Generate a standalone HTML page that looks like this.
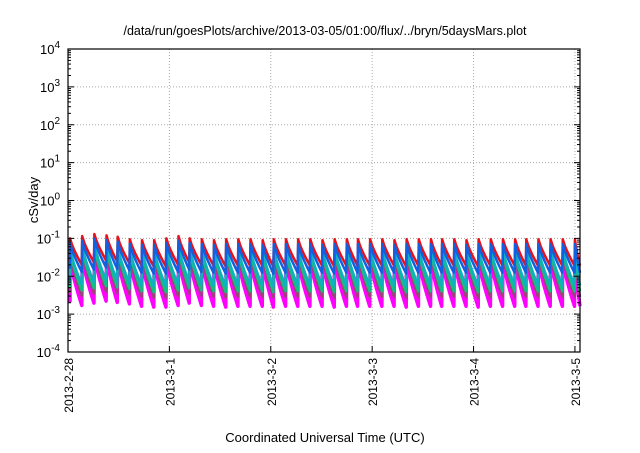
<!DOCTYPE html>
<html><head><meta charset="utf-8"><style>
body{margin:0;background:#fff;font-family:"Liberation Sans",sans-serif}
svg text{font-family:"Liberation Sans",sans-serif;fill:#000}
</style></head><body>
<svg id="c" width="640" height="448" xmlns="http://www.w3.org/2000/svg">
<text x="325" y="35" font-size="12.5" text-anchor="middle">/data/run/goesPlots/archive/2013-03-05/01:00/flux/../bryn/5daysMars.plot</text>
<text transform="translate(38,200) rotate(-90)" font-size="13" text-anchor="middle">cSv/day</text>
<text x="325" y="442" font-size="13" text-anchor="middle">Coordinated Universal Time (UTC)</text>
<g id="grid"></g><g id="series"></g><g id="axes"></g>
</svg>
<script>
const xTickLabels=["2013-2-28","2013-3-1","2013-3-2","2013-3-3","2013-3-4","2013-3-5"];
const yTickExps=[-4,-3,-2,-1,0,1,2,3,4];
const cycleTimes=[0.02,0.14,0.26,0.38,0.49,0.61,0.73,0.85,0.97,1.09,1.2,1.32,1.44,1.56,1.68,1.8,1.92,2.03,2.15,2.27,2.39,2.51,2.63,2.75,2.86,2.98,3.1,3.22,3.34,3.46,3.58,3.69,3.81,3.93,4.05,4.17,4.29,4.41,4.52,4.64,4.76,4.88,5.0];
const cycleScale=[1.0,1.15,1.3,1.2,1.1,0.95,0.9,0.9,1.0,1.15,1.0,0.95,0.9,0.95,0.95,0.95,0.9,0.95,0.95,0.95,0.95,0.9,0.95,0.95,0.95,0.95,0.95,0.9,0.95,0.95,0.95,0.95,0.95,0.9,0.95,0.95,0.95,0.95,0.95,0.95,0.95,0.95,0.95];
const seriesNames=["magenta","brown","green","cyan","red","blue"];
const seriesColors=["#ff00ff","#a0407a","#10c080","#10b0c0","#e8101a","#1060e0"];
const seriesPeak=[0.028,0.035,0.045,0.055,0.1,0.075];
const seriesTrough=[0.0017,0.003,0.0042,0.006,0.02,0.013];
const seriesWidth=[3.5,2.5,2.5,2.5,2.5,2.5];
const L=68,R=580,T=49,B=352,X0=0,X1=5.05,YMIN=-4,YMAX=4;
const sx=t=>L+(t-X0)/(X1-X0)*(R-L);
const sy=v=>B-(Math.log10(v)-YMIN)/(YMAX-YMIN)*(B-T);
const NS="http://www.w3.org/2000/svg";
function mk(tag,attrs,parent){const e=document.createElementNS(NS,tag);for(const k in attrs)e.setAttribute(k,attrs[k]);parent.appendChild(e);return e;}
const grid=document.getElementById('grid'),axes=document.getElementById('axes'),ser=document.getElementById('series');
xTickLabels.forEach((lab,i)=>{
  const x=sx(i);
  if(i>0){const g=mk('line',{x1:x,x2:x,y1:T,y2:B,stroke:'#aaa','stroke-dasharray':'1,2'},grid);
  
  }
  const tk=mk('line',{x1:x,x2:x,y1:B,y2:B-6,stroke:'#000'},axes);
  
  
  const t=mk('text',{transform:`translate(${x+5},${B+6}) rotate(-90)`,'font-size':12,'text-anchor':'end'},axes);
  t.textContent=lab;
  
  
});
yTickExps.forEach(e=>{
  const y=sy(Math.pow(10,e));
  if(e>YMIN&&e<YMAX){const g=mk('line',{x1:L,x2:R,y1:y,y2:y,stroke:'#aaa','stroke-dasharray':'1,2'},grid);
  
  }
  mk('line',{x1:L,x2:L+6,y1:y,y2:y,stroke:'#000'},axes);
  mk('line',{x1:R,x2:R-6,y1:y,y2:y,stroke:'#000'},axes);
  if(e<YMAX)for(let m=2;m<10;m++){const ym=sy(m*Math.pow(10,e));mk('line',{x1:L,x2:L+3,y1:ym,y2:ym,stroke:'#000'},axes);mk('line',{x1:R,x2:R-3,y1:ym,y2:ym,stroke:'#000'},axes);}
  const t=mk('text',{x:60,y:y+5,'font-size':13,'text-anchor':'end'},axes);
  t.textContent='10';
  const s=mk('tspan',{dy:-6,'font-size':10},t);s.textContent=e;
  
  
});
const frame=mk('rect',{x:L,y:T,width:R-L,height:B-T,fill:'none',stroke:'#000','stroke-width':1.2},axes);


seriesNames.forEach((nm,si)=>{
  let d='';
  cycleTimes.forEach((t,i)=>{
    const pk=seriesPeak[si]*cycleScale[i],tr=seriesTrough[si]*cycleScale[i];
    const tEnd=i+1<cycleTimes.length?cycleTimes[i+1]-0.004:X1;
    const x0=sx(t),x1=sx(tEnd);
    d+=(i===0?`M${sx(0)},${sy(tr*1.3)}L${x0},${sy(tr*1.3)}`:'')+`L${x0},${sy(pk)}`;
    for(let k=1;k<=6;k++){const f=k/6;const lv=Math.log10(pk)+(Math.log10(tr)-Math.log10(pk))*Math.pow(f,0.8);d+=`L${x0+(x1-x0)*f},${sy(Math.pow(10,lv))}`;}
  });
  const p=mk('path',{d:d,fill:'none',stroke:seriesColors[si],'stroke-width':seriesWidth[si],'stroke-linejoin':'round'},ser);
  
  
});
</script>
</body></html>
